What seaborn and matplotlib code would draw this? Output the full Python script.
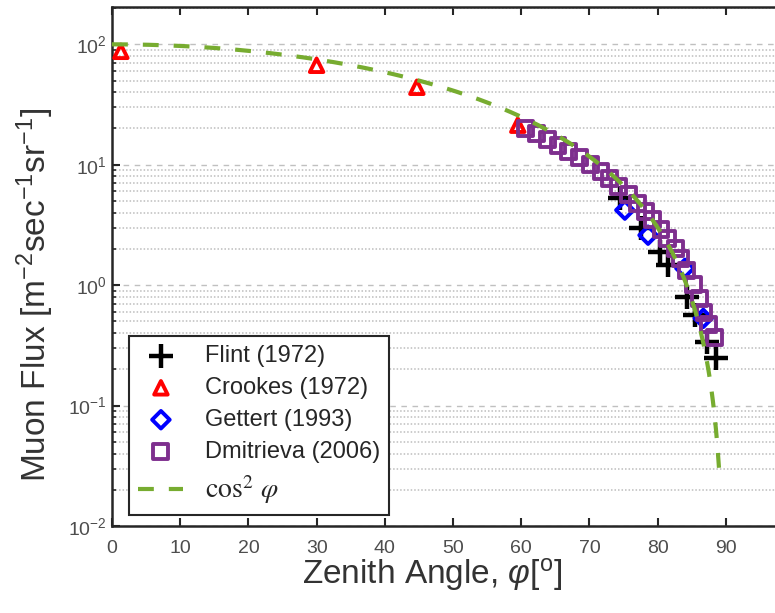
import numpy as np
import pandas as pd
import matplotlib
matplotlib.use("Agg")
import matplotlib.pyplot as plt
import seaborn as sns

# values (zenith angle in deg, flux in m^-2 s^-1 sr^-1)
flint_ang = [74.5, 77.6, 80.4, 81.5, 84.3, 85.5, 87.2, 88.6]
flint_flux = [5.3, 3.0, 1.88, 1.47, 0.79, 0.56, 0.34, 0.25]

crookes_ang = [1.3, 30.0, 44.7, 59.5]
crookes_flux = [87.5, 67.0, 44.0, 21.3]

gettert_ang = [75.2, 78.6, 84.0, 86.7]
gettert_flux = [4.2, 2.6, 1.38, 0.53]

dmit_ang = [60.6, 62.2, 63.8, 65.4, 67.0, 68.6, 70.2, 71.7, 73.0, 74.3, 75.7, 77.0,
            78.2, 79.3, 80.5, 81.5, 82.6, 83.4, 84.3, 85.2, 86.1, 86.8, 87.5, 88.3]
dmit_flux = [20.1, 18.3, 16.3, 14.5, 12.9, 11.5, 10.1, 8.8, 7.7, 6.6, 5.7, 4.8,
             4.1, 3.5, 2.9, 2.45, 2.03, 1.67, 1.33, 1.02, 0.78, 0.59, 0.47, 0.37]

# cos^2 model, I0 = 100
I0 = 100
model_ang = np.linspace(0, 89, 400)
model_flux = I0 * np.cos(np.radians(model_ang)) ** 2

sns.set_style("ticks")
plt.rcParams["font.family"] = ["Liberation Sans", "DejaVu Sans"]
plt.rcParams["mathtext.fontset"] = "custom"
plt.rcParams["mathtext.rm"] = "Liberation Sans"
plt.rcParams["mathtext.it"] = "Liberation Sans:italic"
plt.rcParams["mathtext.bf"] = "Liberation Sans:bold"

fig = plt.figure(figsize=(7.75, 6.13), dpi=100)
ax = fig.add_axes([112 / 775, 87 / 613, 682 / 775, 519 / 613])

sns.scatterplot(x=flint_ang, y=flint_flux, marker="+", s=300, color="black",
                linewidth=3.2, ax=ax, label="Flint (1972)", zorder=3)
sns.scatterplot(x=crookes_ang, y=crookes_flux, marker="^", s=95, facecolor="none",
                edgecolor="#ff0000", linewidth=2.8, ax=ax, label="Crookes (1972)", zorder=3)
sns.scatterplot(x=gettert_ang, y=gettert_flux, marker="D", s=80, facecolor="none",
                edgecolor="#0000ff", linewidth=2.8, ax=ax, label="Gettert (1993)", zorder=3)
sns.scatterplot(x=dmit_ang, y=dmit_flux, marker="s", s=115, facecolor="none",
                edgecolor="#7e2f8e", linewidth=2.8, ax=ax, label="Dmitrieva (2006)", zorder=4)
model = pd.DataFrame({"ang": model_ang, "flux": model_flux})
sns.lineplot(data=model, x="ang", y="flux", color="#77ac30", linewidth=3,
             dashes=False, ax=ax, label=r"$\cos^2\,\varphi$", zorder=5)
ax.lines[-1].set_dashes([3.8, 3.6])

ax.set_yscale("log")
ax.set_xlim(0, 100)
ax.set_ylim(0.01, 10 ** 2.31)
ax.set_xticks(np.arange(0, 100, 10))

ax.grid(axis="y", which="major", color="#c0c0c0", linestyle=(0, (4, 4)), linewidth=1.0)
ax.grid(axis="y", which="minor", color="#bdbdbd", linestyle=(0, (1, 1.3)), linewidth=1.1)
ax.grid(axis="x", visible=False)
ax.set_axisbelow(True)

for side in ["left", "bottom", "top", "right"]:
    ax.spines[side].set_visible(True)
    ax.spines[side].set_color("#262626")
    ax.spines[side].set_linewidth(1.8)

ax.tick_params(which="both", direction="in", top=True, right=False,
               colors="#262626", labelcolor="#4d4d4d", labelsize=14)
ax.tick_params(which="major", length=6, width=1.5)
ax.tick_params(which="minor", length=3, width=1.2)
ax.tick_params(axis="x", which="minor", top=False, bottom=False)
ax.tick_params(axis="x", pad=10)

ax.set_xlabel(r"Zenith Angle, $\varphi$[$^{\mathrm{o}}$]", fontsize=24, color="#333333")
ax.set_ylabel(r"Muon Flux [m$^{\mathrm{-2}}$sec$^{\mathrm{-1}}$sr$^{\mathrm{-1}}$]",
              fontsize=24, color="#333333")
ax.xaxis.set_label_coords(0.47, -0.058)
ax.yaxis.set_label_coords(-0.082, 0.445)

leg = ax.legend(loc="lower left", bbox_to_anchor=(0.025, 0.021), borderaxespad=0,
                fontsize=17, frameon=True, fancybox=False, edgecolor="#262626",
                framealpha=1, handlelength=1.9, labelspacing=0.42, borderpad=0.4,
                handletextpad=0.9)
leg.get_frame().set_linewidth(1.5)
for t in leg.get_texts():
    t.set_color("#262626")
cos_txt = leg.get_texts()[-1]
cos_txt.set_math_fontfamily("stix")
cos_txt.set_fontsize(20)

fig.savefig("out.png", dpi=100)
